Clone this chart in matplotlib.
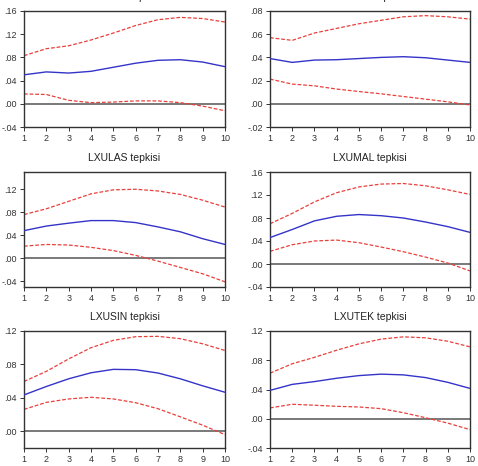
import matplotlib
matplotlib.use("Agg")
import matplotlib.pyplot as plt
from matplotlib.ticker import FuncFormatter

plt.rcParams["font.family"] = ["Liberation Sans", "DejaVu Sans"]

periods = list(range(1, 11))

titles = ["LXU100 tepkisi", "LXUHIZ tepkisi",
          "LXULAS tepkisi", "LXUMAL tepkisi",
          "LXUSIN tepkisi", "LXUTEK tepkisi"]

# response, upper band, lower band for each panel
resp_1 = [.050, .055, .053, .056, .063, .070, .075, .076, .072, .064]
up_1 = [.083, .095, .100, .110, .122, .135, .145, .149, .147, .141]
lo_1 = [.017, .016, .006, .002, .003, .005, .005, .002, -.004, -.012]

resp_2 = [.039, .0357, .0377, .038, .039, .040, .0406, .0397, .0377, .0357]
up_2 = [.057, .0547, .061, .065, .069, .072, .075, .076, .075, .073]
lo_2 = [.0213, .017, .0155, .0127, .0106, .0086, .0063, .004, .0017, -.001]

resp_3 = [.048, .056, .061, .0655, .0655, .062, .0545, .046, .034, .024]
up_3 = [.076, .086, .099, .112, .119, .120, .117, .111, .101, .089]
lo_3 = [.021, .024, .023, .019, .0133, .005, -.005, -.016, -.027, -.041]

resp_4 = [.046, .060, .075, .083, .086, .084, .080, .073, .065, .055]
up_4 = [.070, .088, .108, .124, .134, .139, .140, .136, .129, .121]
lo_4 = [.022, .0335, .040, .0416, .037, .0295, .0214, .012, .0017, -.012]

resp_5 = [.0435, .0536, .0628, .070, .0741, .0737, .0697, .0628, .0544, .0467]
up_5 = [.0596, .0717, .0866, .100, .1088, .1132, .1136, .1108, .1047, .0967]
lo_5 = [.0262, .0346, .0387, .0407, .0387, .0342, .027, .0173, .0073, -.004]

resp_6 = [.0388, .047, .0508, .0554, .059, .061, .060, .0563, .0498, .0415]
up_6 = [.0623, .0752, .084, .0937, .1024, .1089, .112, .1107, .106, .0983]
lo_6 = [.0148, .0198, .0185, .017, .0161, .0138, .0083, .0014, -.006, -.0148]

ylims = [(-.04, .16), (-.02, .08), (-.05, .15), (-.04, .16), (-.02, .12), (-.04, .12)]
yticks = [[-.04, 0, .04, .08, .12, .16],
          [-.02, 0, .02, .04, .06, .08],
          [-.04, 0, .04, .08, .12],
          [-.04, 0, .04, .08, .12, .16],
          [0, .04, .08, .12],
          [-.04, 0, .04, .08, .12]]

responses = [resp_1, resp_2, resp_3, resp_4, resp_5, resp_6]
uppers = [up_1, up_2, up_3, up_4, up_5, up_6]
lowers = [lo_1, lo_2, lo_3, lo_4, lo_5, lo_6]

W, H = 478, 466
cols = [(24, 225), (270, 470)]
rows = [(11, 127), (172, 287), (331, 448)]


def fmt(v, pos):
    if abs(v) < 1e-9:
        return ".00"
    return ("%.2f" % v).replace("0.", ".")


fig = plt.figure(figsize=(W / 100, H / 100), dpi=100)

for i in range(6):
    x0, x1 = cols[i % 2]
    y0, y1 = rows[i // 2]
    ax = fig.add_axes([x0 / W, 1 - y1 / H, (x1 - x0) / W, (y1 - y0) / H])
    ax.axhline(0, color="#555555", lw=1.1, zorder=1)
    ax.plot(periods, responses[i], color="#3434c8", lw=1.0, zorder=3)
    ax.plot(periods, uppers[i], color="#e8403c", lw=0.9, dashes=(3, 1.5), zorder=2)
    ax.plot(periods, lowers[i], color="#e8403c", lw=0.9, dashes=(3, 1.5), zorder=2)
    ax.set_xlim(1, 10)
    ax.set_ylim(*ylims[i])
    ax.set_xticks(periods)
    ax.set_yticks(yticks[i])
    ax.yaxis.set_major_formatter(FuncFormatter(fmt))
    ax.tick_params(direction="out", length=3, width=0.7, labelsize=6.5, pad=2,
                   colors="#333333")
    for sp in ax.spines.values():
        sp.set_linewidth(1.0)
        sp.set_color("#333333")
    ax.set_title(titles[i], fontsize=7.5, pad=8, color="#222222")

fig.savefig("out.png", dpi=100)
